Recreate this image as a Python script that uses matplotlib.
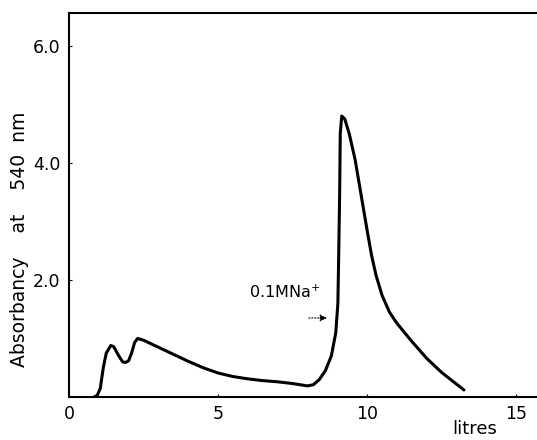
import matplotlib.pyplot as plt

# elution profile
litres = [0.85, 0.95, 1.05, 1.15, 1.25, 1.4, 1.5, 1.65, 1.8, 1.9, 2.0, 2.1, 2.2, 2.3,
          2.5, 3.0, 3.5, 4.0, 4.5, 5.0, 5.5, 6.0, 6.5, 7.0, 7.5, 8.0, 8.2, 8.4, 8.6,
          8.8, 8.95, 9.02, 9.05, 9.08, 9.1, 9.15, 9.25, 9.4, 9.6, 9.8, 10.0, 10.15,
          10.3, 10.5, 10.75, 11.0, 11.5, 12.0, 12.5, 13.0, 13.25]
absorbancy = [0.0, 0.03, 0.15, 0.5, 0.75, 0.88, 0.86, 0.72, 0.6, 0.59, 0.62, 0.75, 0.93, 1.0,
              0.97, 0.85, 0.73, 0.61, 0.5, 0.41, 0.35, 0.31, 0.28, 0.26, 0.23, 0.19, 0.21, 0.3, 0.45,
              0.7, 1.1, 1.6, 2.5, 3.5, 4.5, 4.8, 4.75, 4.5, 4.05, 3.45, 2.85, 2.42,
              2.08, 1.74, 1.45, 1.26, 0.95, 0.66, 0.42, 0.22, 0.12]

x_ticks = [0, 5, 10, 15]
y_ticks = [2.0, 4.0, 6.0]
y_tick_labels = ["2.0", "4.0", "6.0"]

fig = plt.figure(figsize=(5.37, 4.40), dpi=100)
ax = fig.add_axes([0.1285, 0.0977, 0.8715, 0.8728])

ax.plot(litres, absorbancy, color="black", linewidth=2.2, solid_capstyle="round",
        solid_joinstyle="round")

ax.set_xlim(0, 15.7)
ax.set_ylim(0, 6.56)
ax.set_xticks(x_ticks)
ax.set_yticks(y_ticks)
ax.set_yticklabels(y_tick_labels)
ax.tick_params(direction="in", length=2, width=0.8, labelsize=12.5, colors="black", pad=6)

ax.spines["right"].set_visible(False)
for s in ["left", "bottom", "top"]:
    ax.spines[s].set_linewidth(1.5)

fig.text(0.037, 0.455, "Absorbancy    at    540  nm", fontsize=13.5, rotation=90,
         ha="center", va="center")
ax.text(13.6, -0.55, "litres", fontsize=13, ha="center", va="center")

# salt step annotation
ax.text(6.05, 1.78, "0.1MNa$^{+}$", fontsize=11.5, ha="left", va="center")
ax.annotate("", xy=(8.75, 1.35), xytext=(7.95, 1.35),
            arrowprops=dict(arrowstyle="-|>", color="black", lw=0.8, linestyle=":",
                            mutation_scale=10))

fig.savefig("out.png", dpi=100)
